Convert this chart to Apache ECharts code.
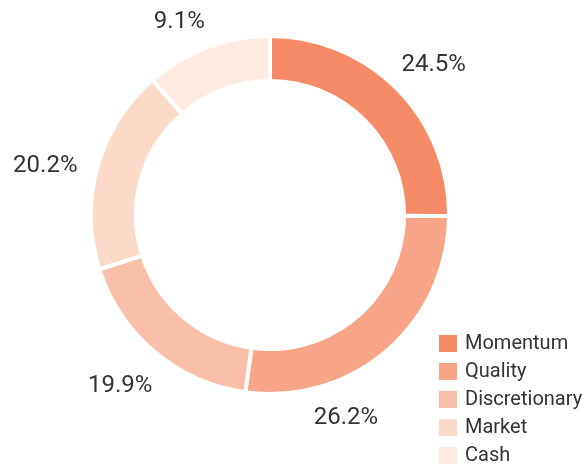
<!DOCTYPE html>
<html>
<head>
<meta charset="utf-8">
<script src="https://cdn.jsdelivr.net/npm/echarts@6/dist/echarts.min.js"></script>
<style>
  html, body { margin: 0; padding: 0; background: #fff; }
  #chart { width: 582px; height: 465px; }
</style>
</head>
<body>
<div id="chart"></div>
<script>
let chartDom = document.getElementById('chart');
let myChart = echarts.init(chartDom);

const categories = ['Momentum', 'Quality', 'Discretionary', 'Market', 'Cash'];
const arcShares = [25.1, 27.1, 17.9, 18.5, 11.4];
const labelTexts = ['24.5%', '26.2%', '19.9%', '20.2%', '9.1%'];
const colors = ['#f58a66', '#f7a586', '#fabfa8', '#fcdac9', '#fdeae0'];

// where each label sits: [angle clockwise from top in degrees, distance from centre]
const labelSpots = [[47.5, 222], [159.5, 217], [221.3, 227], [282.3, 230], [334.8, 213]];
const cx = 270, cy = 215;

let data = [];
for (let i = 0; i < categories.length; i++) {
    data.push({
        name: categories[i],
        value: arcShares[i],
        itemStyle: { color: colors[i] }
    });
}

let option = {
    animation: false,
    textStyle: {
        fontFamily: 'Roboto'
    },
    legend: {
        orient: 'vertical',
        left: 432,
        top: 328,
        height: 200,
        itemWidth: 20,
        itemHeight: 19,
        itemGap: 7,
        icon: 'rect',
        textStyle: {
            fontSize: 20,
            lineHeight: 19,
            color: '#333',
            padding: [0, 0, 0, 2]
        }
    },
    series: [{
        type: 'pie',
        center: [cx, cy],
        radius: [134, 179],
        startAngle: 90,
        clockwise: true,
        data: data,
        itemStyle: {
            borderColor: '#fff',
            borderWidth: 4
        },
        label: {
            show: true,
            position: 'outside',
            overflow: 'none',
            formatter: function (params) {
                return labelTexts[params.dataIndex];
            },
            fontSize: 24,
            color: '#333'
        },
        labelLine: {
            show: false
        },
        labelLayout: function (params) {
            let spot = labelSpots[params.dataIndex];
            let a = spot[0] * Math.PI / 180;
            return {
                x: cx + spot[1] * Math.sin(a),
                y: cy - spot[1] * Math.cos(a),
                align: 'center',
                verticalAlign: 'middle'
            };
        },
        emphasis: { disabled: true }
    }]
};
option && myChart.setOption(option);
</script>
</body>
</html>
